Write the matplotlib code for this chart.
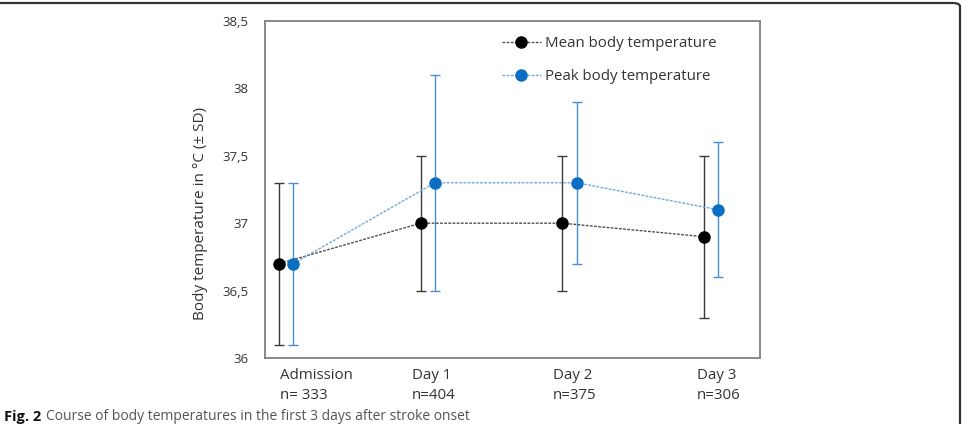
import matplotlib
matplotlib.use('Agg')
import matplotlib.pyplot as plt
from matplotlib.patches import FancyBboxPatch

# data
categories = ['Admission', 'Day 1', 'Day 2', 'Day 3']
n_labels = ['n= 333', 'n=404', 'n=375', 'n=306']
mean_temp = [36.7, 37.0, 37.0, 36.9]
mean_sd = [0.6, 0.5, 0.5, 0.6]
peak_temp = [36.7, 37.3, 37.3, 37.1]
peak_sd_low = [0.6, 0.8, 0.6, 0.5]
peak_sd_high = [0.6, 0.8, 0.6, 0.5]
y_ticks = [36, 36.5, 37, 37.5, 38, 38.5]
y_ticklabels = ['36', '36,5', '37', '37,5', '38', '38,5']

plt.rcParams['font.family'] = ['Open Sans', 'DejaVu Sans']

fig = plt.figure(figsize=(9.65, 4.24), dpi=100)
ax = fig.add_axes([265 / 965, 1 - 358 / 424, (760 - 265) / 965, (358 - 21) / 424])

x_mean = list(range(len(categories)))
x_peak = [x + 0.1 for x in x_mean]

ax.errorbar(x_mean, mean_temp, yerr=mean_sd, fmt='none', ecolor='#3a3a3a',
            elinewidth=1.0, capsize=3.5, capthick=1.0, zorder=2)
ax.errorbar(x_peak, peak_temp, yerr=[peak_sd_low, peak_sd_high], fmt='none',
            ecolor='#4a8fd4', elinewidth=1.0, capsize=3.5, capthick=1.0, zorder=2)
ax.plot(x_mean, mean_temp, linestyle=(0, (2, 1)), color='#505050', lw=1.0,
        marker='o', ms=8, mfc='black', mec='black', label='Mean body temperature', zorder=3)
ax.plot(x_peak, peak_temp, linestyle=(0, (2, 1)), color='#6fa8dc', lw=1.0,
        marker='o', ms=8, mfc='#0a6fc2', mec='#0a6fc2', label='Peak body temperature', zorder=3)

ax.set_xlim(-0.099, 3.395)
ax.set_ylim(36, 38.5)
ax.set_yticks(y_ticks)
ax.set_yticklabels(y_ticklabels, fontsize=9.5, color='#333333')
ax.tick_params(axis='y', length=0, pad=12)
ax.set_xticks([])
for s in ax.spines.values():
    s.set_color('#808080')
    s.set_linewidth(1.3)

# category labels, left aligned under each group
label_shift = [0.01, -0.06, -0.065, -0.05]
for i, (c, n) in enumerate(zip(categories, n_labels)):
    ax.text(i + label_shift[i], -0.03, c + '\n' + n, transform=ax.get_xaxis_transform(),
            ha='left', va='top', fontsize=10.8, color='#333333', linespacing=1.4)

fig.text(201 / 965, 1 - 214 / 424, 'Body temperature in °C (± SD)', rotation=90,
         ha='center', va='center', fontsize=11, color='#333333')

leg = ax.legend(loc='upper right', bbox_to_anchor=(0.94, 0.995), frameon=False, numpoints=1,
                fontsize=10.8, handlelength=2.6, handletextpad=0.3, labelspacing=1.2)
for t in leg.get_texts():
    t.set_color('#333333')

# outer frame with rounded corner, cut at left and bottom
frame = FancyBboxPatch((-0.05, -0.2), 0.05 + 960 / 965, 0.2 + 1 - 3 / 424,
                       boxstyle='round,pad=0,rounding_size=0.008', transform=fig.transFigure,
                       fill=False, edgecolor='#333333', lw=1.6)
fig.patches.append(frame)

# caption: bold figure number, then the plain text right after it
cap_y = 1 - 409.5 / 424
fig_no = fig.text(4 / 965, cap_y, 'Fig. 2', ha='left', va='top', fontsize=10.5,
                  fontweight='bold', color='#111111')
renderer = fig.canvas.get_renderer()
bb = fig_no.get_window_extent(renderer=renderer).transformed(fig.transFigure.inverted())
fig.text(bb.x1 + 5 / 965, cap_y, 'Course of body temperatures in the first 3 days after stroke onset',
         ha='left', va='top', fontsize=10, color='#555555')

fig.savefig('out.png', dpi=100)
